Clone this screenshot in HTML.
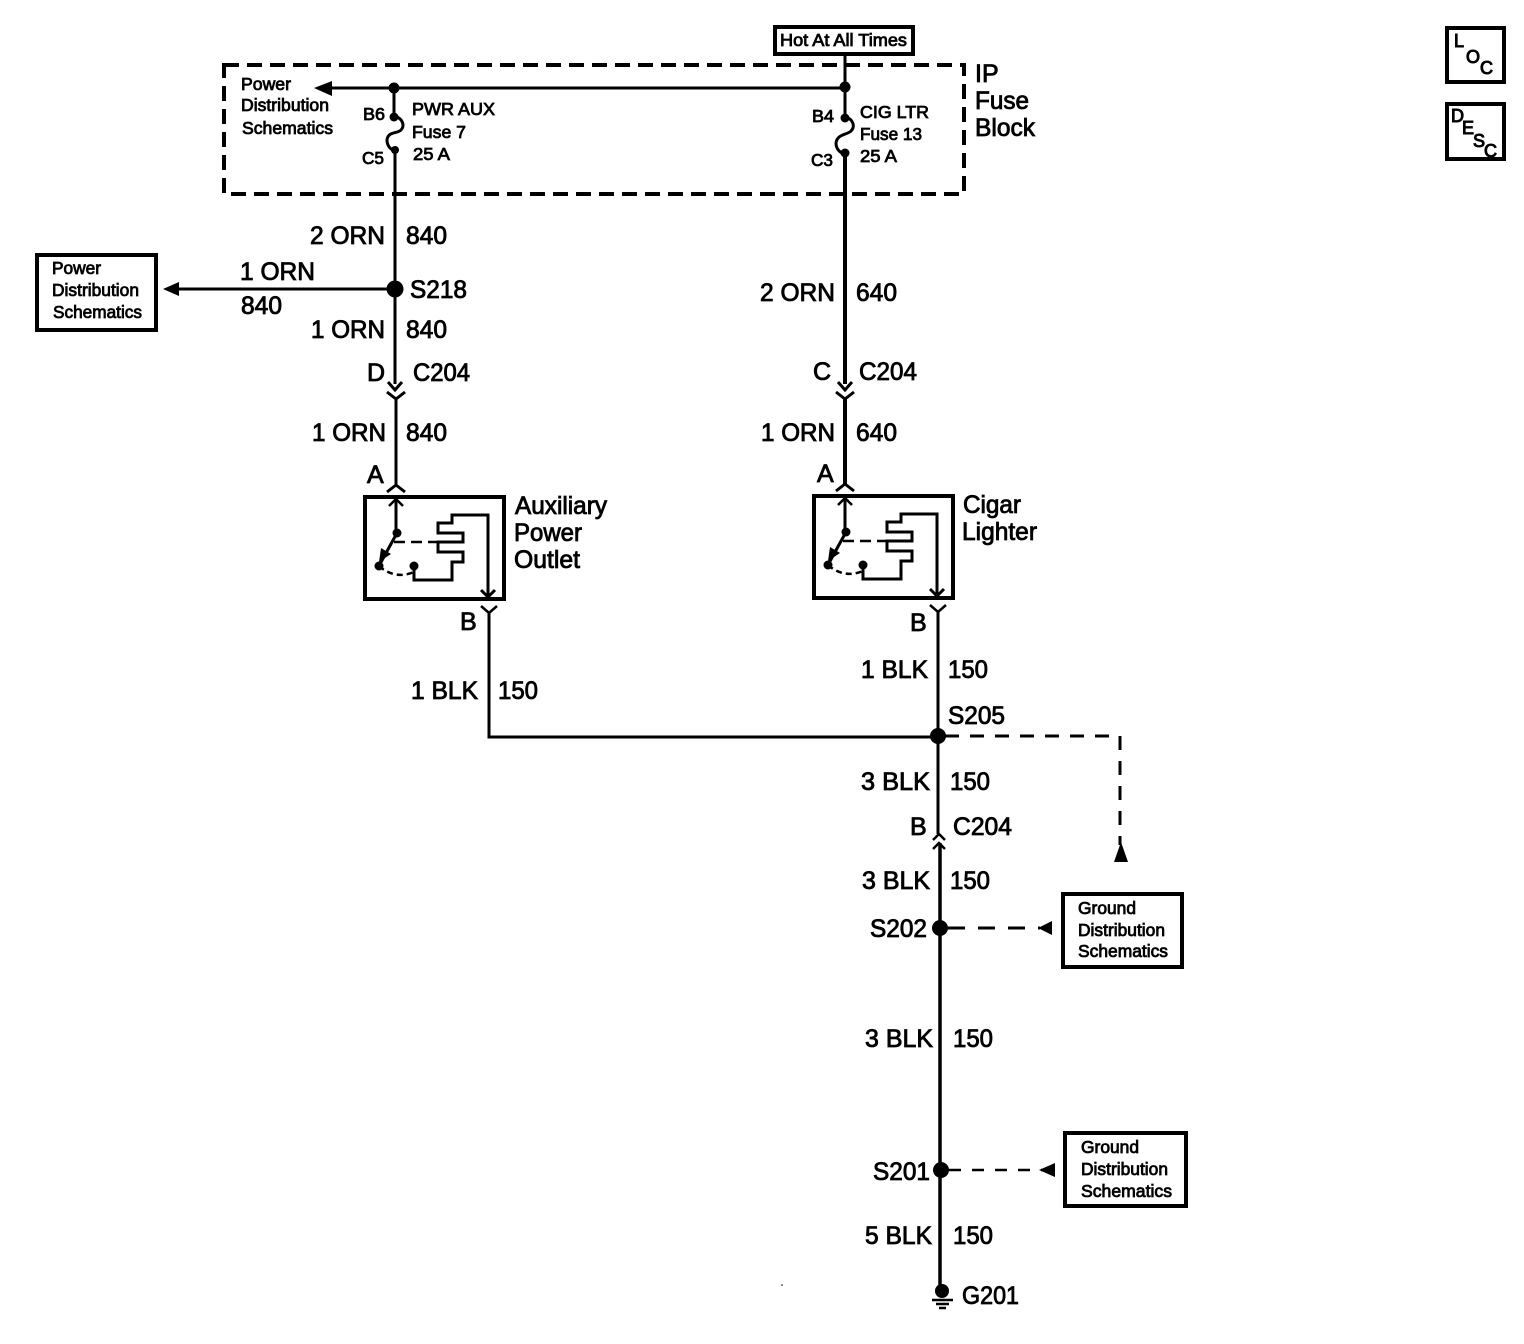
<!DOCTYPE html>
<html>
<head>
<meta charset="utf-8">
<style>
html,body{margin:0;padding:0;background:#fff;width:1524px;height:1344px;overflow:hidden}
svg{display:block}
text{font-family:"Liberation Sans",sans-serif;fill:#000;stroke:#000}
.l{font-size:25px;stroke-width:.85px}
.s{font-size:17.5px;stroke-width:.8px}
.t{font-size:18px;stroke-width:1px}
.f{fill:none;stroke:#000;stroke-linejoin:miter}
</style>
</head>
<body>
<svg width="1524" height="1344" viewBox="0 0 1524 1344" xmlns="http://www.w3.org/2000/svg">
<rect width="1524" height="1344" fill="#fff"/>

<!-- Fuse block -->
<rect x="224" y="65" width="740" height="129" class="f" stroke-width="4" stroke-dasharray="15 8"/>
<rect x="775" y="27" width="138" height="27" class="f" stroke-width="4"/>
<text class="s" x="780" y="46" textLength="127" lengthAdjust="spacingAndGlyphs">Hot At All Times</text>

<!-- Top wires -->
<path class="f" stroke-width="3" d="M330 88H845"/>
<polygon points="314,88 332,81 332,96"/>
<circle cx="394" cy="88" r="5.5"/>
<circle cx="845" cy="87" r="5.5"/>
<path class="f" stroke-width="3" d="M845 54V117"/>
<path class="f" stroke-width="3" d="M394 88V117"/>

<!-- Fuses -->
<circle cx="394" cy="117" r="4.5"/>
<circle cx="845" cy="118" r="4.5"/>
<circle cx="395" cy="150" r="4"/>
<circle cx="845" cy="153" r="4.5"/>
<path class="f" stroke-width="3" d="M394 116C403 118 405 126 401 130C397 134 388 131 387 140C387 146 391 150 395 151"/>
<path class="f" stroke-width="3" d="M845 117C854 119 855 127 851 131C847 135 837 134 836 143C836 149 840 153 845 154"/>

<path class="f" stroke-width="3" d="M395 150V384"/>
<path class="f" stroke-width="4" d="M845 153V384"/>
<path class="f" stroke-width="3" d="M388 382L395 390L402 382"/>
<path class="f" stroke-width="3" d="M838 382L845 390L852 382"/>
<path class="f" stroke-width="3" d="M387 392L396 399L405 392"/>
<path class="f" stroke-width="3" d="M836 392L845 399L854 392"/>
<path class="f" stroke-width="3" d="M396 398V486"/>
<path class="f" stroke-width="4" d="M845 398V486"/>
<circle cx="395" cy="289" r="8.5"/>

<!-- S218 branch -->
<path class="f" stroke-width="3" d="M175 289H395"/>
<polygon points="163,289 179,282 179,296"/>
<rect x="37" y="255" width="119" height="75" class="f" stroke-width="4"/>

<!-- Auxiliary outlet -->
<g>
<rect x="365" y="497" width="139" height="102" class="f" stroke-width="4"/>
<path class="f" stroke-width="3" d="M387 492L396 485L405 492"/>
<path class="f" stroke-width="3" d="M396 497V532"/>
<path class="f" stroke-width="2.5" d="M389 506L396 499L403 506"/>
<circle cx="397" cy="533" r="4.5"/>
<path class="f" stroke-width="3" d="M397 533L380 564"/>
<polygon points="379,562 381,548 391,554"/>
<circle cx="379" cy="566" r="4.5"/>
<circle cx="414" cy="566" r="4.5"/>
<path class="f" stroke-width="2.5" stroke-dasharray="6 4" d="M379 566Q395 580 414 572"/>
<path class="f" stroke-width="2.5" stroke-dasharray="11 6" d="M394 542H440"/>
<path class="f" stroke-width="3" d="M414 567V580H452V562H463V552H438V542H463V533H438V523H452V515H488V597"/>
<path class="f" stroke-width="3" d="M481 590L488 597L495 590"/>
</g>
<g transform="translate(449,-1)">
<rect x="365" y="497" width="139" height="102" class="f" stroke-width="4"/>
<path class="f" stroke-width="3" d="M387 492L396 485L405 492"/>
<path class="f" stroke-width="3" d="M396 497V532"/>
<path class="f" stroke-width="2.5" d="M389 506L396 499L403 506"/>
<circle cx="397" cy="533" r="4.5"/>
<path class="f" stroke-width="3" d="M397 533L380 564"/>
<polygon points="379,562 381,548 391,554"/>
<circle cx="379" cy="566" r="4.5"/>
<circle cx="414" cy="566" r="4.5"/>
<path class="f" stroke-width="2.5" stroke-dasharray="6 4" d="M379 566Q395 580 414 572"/>
<path class="f" stroke-width="2.5" stroke-dasharray="11 6" d="M394 542H440"/>
<path class="f" stroke-width="3" d="M414 567V580H452V562H463V552H438V542H463V533H438V523H452V515H488V597"/>
<path class="f" stroke-width="3" d="M481 590L488 597L495 590"/>
</g>

<!-- Black wires -->
<path class="f" stroke-width="2.5" d="M481 606L489 613L497 606"/>
<path class="f" stroke-width="2.5" d="M930 605L938 612L946 605"/>
<path class="f" stroke-width="3" d="M489 612V737H938"/>
<path class="f" stroke-width="3" d="M938 611V834"/>
<circle cx="938" cy="736" r="8"/>
<path class="f" stroke-width="3" stroke-dasharray="14 11" d="M945 736H1120V845"/>
<polygon points="1121,842 1114,862 1128,862"/>
<path class="f" stroke-width="2.5" d="M933 840L939 834L945 840"/>
<path class="f" stroke-width="2.5" d="M933 849L939 843L945 849"/>
<path class="f" stroke-width="3.5" d="M940 843V1292"/>
<circle cx="940" cy="928" r="8"/>
<path class="f" stroke-width="3" stroke-dasharray="17 13" d="M948 928H1040"/>
<polygon points="1038,928 1052,921 1052,935"/>
<rect x="1063" y="894" width="119" height="73" class="f" stroke-width="4"/>
<circle cx="941" cy="1170" r="8"/>
<path class="f" stroke-width="2.5" stroke-dasharray="12 11" d="M949 1170H1042"/>
<polygon points="1039,1170 1055,1163 1055,1177"/>
<rect x="1065" y="1133" width="121" height="73" class="f" stroke-width="4"/>

<!-- Ground -->
<circle cx="942" cy="1291" r="7"/>
<path class="f" stroke-width="2.5" d="M932 1300H953M936 1304H949M939 1308H946"/>
<circle cx="782" cy="1285" r=".8"/>

<!-- LOC / DESC -->
<rect x="1447" y="28" width="57" height="54" class="f" stroke-width="4"/>
<rect x="1447" y="104" width="57" height="55" class="f" stroke-width="4"/>
<text class="t" x="1454" y="47">L</text>
<text class="t" x="1466" y="63">O</text>
<text class="t" x="1480" y="74">C</text>
<text class="t" x="1451" y="122">D</text>
<text class="t" x="1462" y="134">E</text>
<text class="t" x="1473" y="147">S</text>
<text class="t" x="1484" y="157">C</text>

<!-- Small text -->
<text class="s" x="241" y="90" textLength="50" lengthAdjust="spacingAndGlyphs">Power</text>
<text class="s" x="241" y="111" textLength="88" lengthAdjust="spacingAndGlyphs">Distribution</text>
<text class="s" x="242" y="134" textLength="91" lengthAdjust="spacingAndGlyphs">Schematics</text>
<text class="s" x="363" y="120" textLength="22" lengthAdjust="spacingAndGlyphs">B6</text>
<text class="s" x="362" y="164" textLength="22" lengthAdjust="spacingAndGlyphs">C5</text>
<text class="s" x="412" y="115" textLength="83" lengthAdjust="spacingAndGlyphs">PWR AUX</text>
<text class="s" x="412" y="138" textLength="54" lengthAdjust="spacingAndGlyphs">Fuse 7</text>
<text class="s" x="413" y="160" textLength="37" lengthAdjust="spacingAndGlyphs">25 A</text>
<text class="s" x="812" y="122" textLength="22" lengthAdjust="spacingAndGlyphs">B4</text>
<text class="s" x="811" y="166" textLength="22" lengthAdjust="spacingAndGlyphs">C3</text>
<text class="s" x="860" y="118" textLength="69" lengthAdjust="spacingAndGlyphs">CIG LTR</text>
<text class="s" x="860" y="140" textLength="62" lengthAdjust="spacingAndGlyphs">Fuse 13</text>
<text class="s" x="860" y="162" textLength="37" lengthAdjust="spacingAndGlyphs">25 A</text>
<text class="s" x="52" y="274" textLength="49" lengthAdjust="spacingAndGlyphs">Power</text>
<text class="s" x="52" y="296" textLength="87" lengthAdjust="spacingAndGlyphs">Distribution</text>
<text class="s" x="53" y="318" textLength="89" lengthAdjust="spacingAndGlyphs">Schematics</text>
<text class="s" x="1078" y="914" textLength="58" lengthAdjust="spacingAndGlyphs">Ground</text>
<text class="s" x="1078" y="936" textLength="87" lengthAdjust="spacingAndGlyphs">Distribution</text>
<text class="s" x="1078" y="957" textLength="90" lengthAdjust="spacingAndGlyphs">Schematics</text>
<text class="s" x="1081" y="1153" textLength="58" lengthAdjust="spacingAndGlyphs">Ground</text>
<text class="s" x="1081" y="1175" textLength="87" lengthAdjust="spacingAndGlyphs">Distribution</text>
<text class="s" x="1081" y="1197" textLength="91" lengthAdjust="spacingAndGlyphs">Schematics</text>

<!-- Large text -->
<text class="l" x="975" y="82">IP</text>
<text class="l" x="975" y="109" textLength="54" lengthAdjust="spacingAndGlyphs">Fuse</text>
<text class="l" x="975" y="136" textLength="60" lengthAdjust="spacingAndGlyphs">Block</text>
<text class="l" x="310" y="244" textLength="75" lengthAdjust="spacingAndGlyphs">2 ORN</text>
<text class="l" x="406" y="244" textLength="41" lengthAdjust="spacingAndGlyphs">840</text>
<text class="l" x="240" y="280" textLength="75" lengthAdjust="spacingAndGlyphs">1 ORN</text>
<text class="l" x="241" y="314" textLength="41" lengthAdjust="spacingAndGlyphs">840</text>
<text class="l" x="410" y="298" textLength="57" lengthAdjust="spacingAndGlyphs">S218</text>
<text class="l" x="311" y="338" textLength="74" lengthAdjust="spacingAndGlyphs">1 ORN</text>
<text class="l" x="406" y="338" textLength="41" lengthAdjust="spacingAndGlyphs">840</text>
<text class="l" x="367" y="381">D</text>
<text class="l" x="413" y="381" textLength="57" lengthAdjust="spacingAndGlyphs">C204</text>
<text class="l" x="312" y="441" textLength="74" lengthAdjust="spacingAndGlyphs">1 ORN</text>
<text class="l" x="406" y="441" textLength="41" lengthAdjust="spacingAndGlyphs">840</text>
<text class="l" x="367" y="483">A</text>
<text class="l" x="515" y="514" textLength="92" lengthAdjust="spacingAndGlyphs">Auxiliary</text>
<text class="l" x="514" y="541" textLength="68" lengthAdjust="spacingAndGlyphs">Power</text>
<text class="l" x="514" y="568" textLength="66" lengthAdjust="spacingAndGlyphs">Outlet</text>
<text class="l" x="460" y="630">B</text>
<text class="l" x="411" y="699" textLength="67" lengthAdjust="spacingAndGlyphs">1 BLK</text>
<text class="l" x="498" y="699" textLength="40" lengthAdjust="spacingAndGlyphs">150</text>

<text class="l" x="760" y="301" textLength="75" lengthAdjust="spacingAndGlyphs">2 ORN</text>
<text class="l" x="856" y="301" textLength="41" lengthAdjust="spacingAndGlyphs">640</text>
<text class="l" x="813" y="380">C</text>
<text class="l" x="859" y="380" textLength="58" lengthAdjust="spacingAndGlyphs">C204</text>
<text class="l" x="761" y="441" textLength="74" lengthAdjust="spacingAndGlyphs">1 ORN</text>
<text class="l" x="856" y="441" textLength="41" lengthAdjust="spacingAndGlyphs">640</text>
<text class="l" x="817" y="482">A</text>
<text class="l" x="963" y="513" textLength="58" lengthAdjust="spacingAndGlyphs">Cigar</text>
<text class="l" x="962" y="540" textLength="75" lengthAdjust="spacingAndGlyphs">Lighter</text>
<text class="l" x="910" y="631">B</text>
<text class="l" x="861" y="678" textLength="67" lengthAdjust="spacingAndGlyphs">1 BLK</text>
<text class="l" x="948" y="678" textLength="40" lengthAdjust="spacingAndGlyphs">150</text>
<text class="l" x="948" y="724" textLength="57" lengthAdjust="spacingAndGlyphs">S205</text>
<text class="l" x="861" y="790" textLength="69" lengthAdjust="spacingAndGlyphs">3 BLK</text>
<text class="l" x="950" y="790" textLength="40" lengthAdjust="spacingAndGlyphs">150</text>
<text class="l" x="910" y="835">B</text>
<text class="l" x="953" y="835" textLength="59" lengthAdjust="spacingAndGlyphs">C204</text>
<text class="l" x="862" y="889" textLength="68" lengthAdjust="spacingAndGlyphs">3 BLK</text>
<text class="l" x="950" y="889" textLength="40" lengthAdjust="spacingAndGlyphs">150</text>
<text class="l" x="870" y="937" textLength="57" lengthAdjust="spacingAndGlyphs">S202</text>
<text class="l" x="865" y="1047" textLength="68" lengthAdjust="spacingAndGlyphs">3 BLK</text>
<text class="l" x="953" y="1047" textLength="40" lengthAdjust="spacingAndGlyphs">150</text>
<text class="l" x="873" y="1180" textLength="57" lengthAdjust="spacingAndGlyphs">S201</text>
<text class="l" x="865" y="1244" textLength="67" lengthAdjust="spacingAndGlyphs">5 BLK</text>
<text class="l" x="953" y="1244" textLength="40" lengthAdjust="spacingAndGlyphs">150</text>
<text class="l" x="962" y="1304" textLength="57" lengthAdjust="spacingAndGlyphs">G201</text>
</svg>
</body>
</html>
